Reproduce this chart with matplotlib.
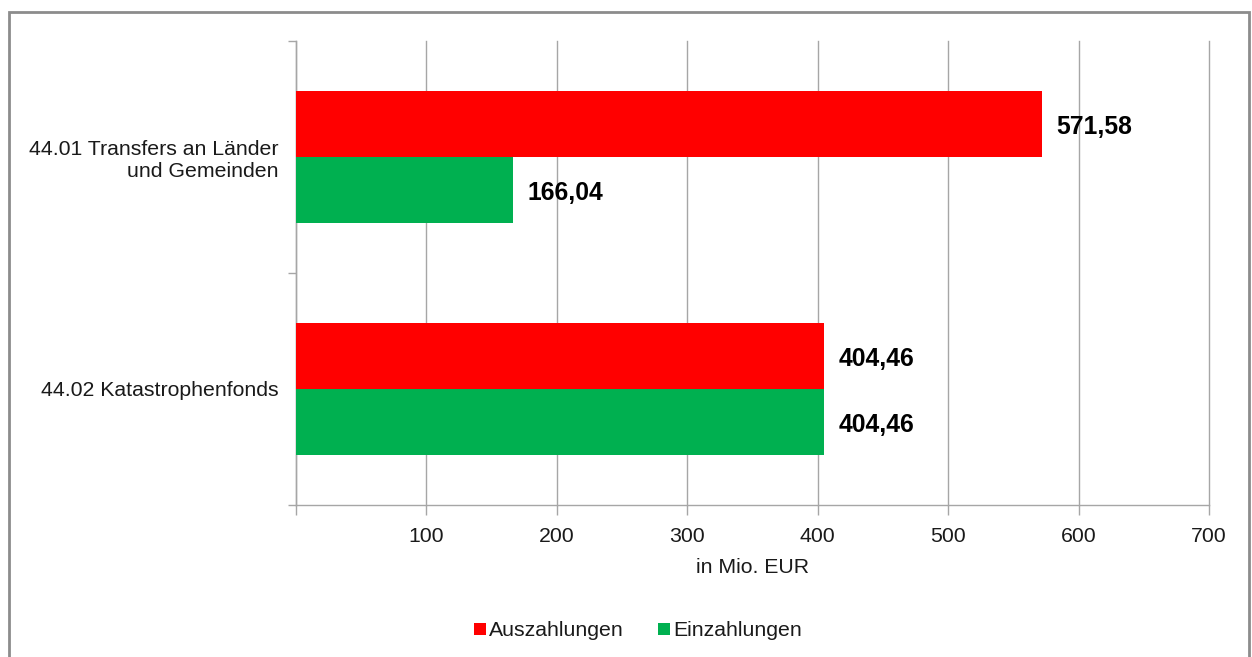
import matplotlib
matplotlib.use('Agg')

import numpy as np
import matplotlib.pyplot as plt
from matplotlib.patches import Rectangle

plt.rcParams['font.family'] = ['Liberation Sans', 'DejaVu Sans']

# data
categories = ['44.01 Transfers an Länder\nund Gemeinden', '44.02 Katastrophenfonds']
auszahlungen = [571.58, 404.46]
einzahlungen = [166.04, 404.46]
series_names = ['Auszahlungen', 'Einzahlungen']
x_ticks = [0, 100, 200, 300, 400, 500, 600, 700]

red = '#ff0000'
green = '#00b050'
grid_c = '#a6a6a6'
text_c = '#1a1a1a'
fs = 15.3

fig = plt.figure(figsize=(12.52, 6.57), dpi=100)
ax = fig.add_axes([296 / 1252, 1 - 505 / 657, 913 / 1252, 464 / 657])

centers = np.arange(len(categories)) + 0.5
bar_h = 0.284

b1 = ax.barh(centers - bar_h / 2, auszahlungen, height=bar_h, color=red, label=series_names[0], zorder=3)
b2 = ax.barh(centers + bar_h / 2, einzahlungen, height=bar_h, color=green, label=series_names[1], zorder=3)

for bars, vals in [(b1, auszahlungen), (b2, einzahlungen)]:
    for bar, v in zip(bars, vals):
        ax.annotate(f'{v:.2f}'.replace('.', ','),
                    (bar.get_width(), bar.get_y() + bar.get_height() / 2),
                    xytext=(15, -3), textcoords='offset pixels',
                    ha='left', va='center', fontsize=17.8, fontweight='bold', color='black')

ax.set_xlim(0, 700)
ax.set_ylim(2, 0)
ax.set_xticks(x_ticks)
ax.set_xticklabels([''] + [str(t) for t in x_ticks[1:]])
ax.set_yticks([0, 1, 2])
ax.set_yticklabels([])
ax.set_yticks(centers, minor=True)
ax.set_yticklabels(categories, minor=True, ha='right', fontsize=fs, color=text_c, linespacing=1.2)
ax.tick_params(axis='y', which='minor', length=0, pad=12.5)
ax.tick_params(axis='y', which='major', length=6, color=grid_c, width=1)
ax.tick_params(axis='x', length=7, color=grid_c, width=1, labelsize=fs, labelcolor=text_c, pad=8.5)

ax.xaxis.grid(True, color=grid_c, linewidth=1, zorder=0)
for gl in ax.get_xgridlines():
    gl.set_clip_on(False)
ax.set_axisbelow(True)
for s in ['top', 'right']:
    ax.spines[s].set_visible(False)
for s in ['left', 'bottom']:
    ax.spines[s].set_color(grid_c)
    ax.spines[s].set_linewidth(1)

ax.set_xlabel('in Mio. EUR', fontsize=fs, color=text_c, labelpad=9)

fig.legend(handles=[b1, b2], labels=series_names, loc='center', bbox_to_anchor=(638 / 1252, 1 - 631 / 657),
           ncol=2, frameon=False, fontsize=fs, handlelength=0.55, handleheight=0.55,
           handletextpad=0.15, columnspacing=1.6, labelcolor=text_c)

# outer chart border
fig.patches.append(Rectangle((9 / 1252, -0.05), (1249 - 9) / 1252, 1 - 12 / 657 + 0.05,
                             transform=fig.transFigure, fill=False, edgecolor='#8c8c8c', linewidth=2))

fig.savefig('out.png', dpi=100)
